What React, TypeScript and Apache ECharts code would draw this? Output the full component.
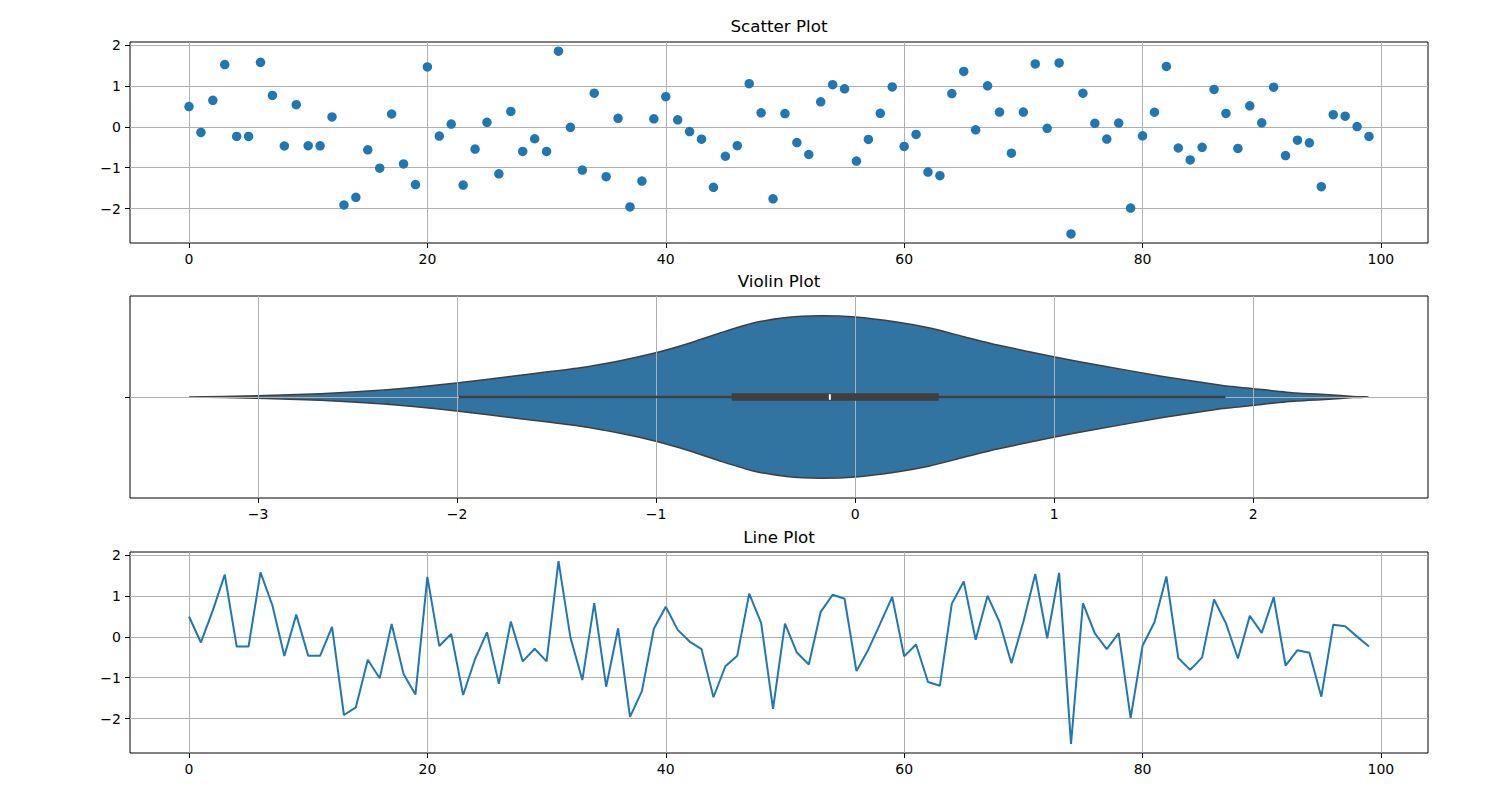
import React, { useEffect, useRef } from "react";
import * as echarts from "echarts";

// ---- data ----
const values: number[] = [
  0.497, -0.138, 0.648, 1.523, -0.234, -0.234, 1.579, 0.767, -0.469, 0.543,
  -0.463, -0.466, 0.242, -1.913, -1.725, -0.562, -1.013, 0.314, -0.908, -1.412,
  1.466, -0.226, 0.068, -1.425, -0.544, 0.111, -1.151, 0.376, -0.601, -0.292,
  -0.602, 1.852, -0.013, -1.058, 0.823, -1.221, 0.209, -1.96, -1.328, 0.197,
  0.738, 0.171, -0.116, -0.301, -1.479, -0.72, -0.461, 1.057, 0.344, -1.763,
  0.324, -0.385, -0.677, 0.612, 1.031, 0.931, -0.839, -0.309, 0.331, 0.976,
  -0.479, -0.186, -1.106, -1.196, 0.813, 1.356, -0.072, 1.004, 0.362, -0.645,
  0.361, 1.538, -0.036, 1.565, -2.62, 0.822, 0.087, -0.299, 0.092, -1.988,
  -0.22, 0.357, 1.478, -0.518, -0.809, -0.502, 0.915, 0.329, -0.53, 0.513,
  0.097, 0.969, -0.702, -0.328, -0.392, -1.464, 0.296, 0.261, 0.005, -0.235,
];
const indices: number[] = values.map((_, i) => i);

const xTicks: number[] = [0, 20, 40, 60, 80, 100];
const yTicks: number[] = [-2, -1, 0, 1, 2];
const violinTicks: number[] = [-3, -2, -1, 0, 1, 2];

// violin outline: value position and half width (category units)
const violinX: number[] = [
  -3.346, -3.0, -2.686, -2.351, -2.003, -1.682, -1.381, -1.18, -0.996, -0.846,
  -0.679, -0.512, -0.344, -0.177, 0.0, 0.208, 0.375, 0.542, 0.709,
  1.003, 1.211, 1.545, 1.846, 2.002, 2.214, 2.381, 2.498, 2.579,
];
const violinHalfWidth: number[] = [
  0, 0.0064, 0.0163, 0.0361, 0.0693, 0.108, 0.145, 0.18, 0.2203, 0.2624,
  0.3168, 0.3663, 0.3936, 0.402, 0.396, 0.3713, 0.3416, 0.3, 0.2589,
  0.198, 0.1599, 0.102, 0.0574, 0.0411, 0.0198, 0.0114, 0.003, 0,
];
// whisker low, q1, median, q3, whisker high
const boxStats: number[] = [-1.99, -0.62, -0.127, 0.42, 1.86];

const titles: string[] = ["Scatter Plot", "Violin Plot", "Line Plot"];

// ---- styling / layout ----
const FONT = "DejaVu Sans";
const BLUE = "#1f77b4";
const GRID_LEFT = 130;
const GRID_WIDTH = 1298;
const GRID_TOPS = [42, 296, 552];
const GRID_HEIGHTS = [201, 202, 201];
const TITLE_TOPS = [17, 272.5, 528.5];

const fmt = (v: number) => (v < 0 ? "\u2212" + Math.abs(v) : String(v));

function axis(gridIndex: number, min: number, max: number, ticks: number[], z?: number, hideLabels?: boolean) {
  return {
    type: "value",
    gridIndex,
    min,
    max,
    z: z ?? 0,
    axisLine: { show: false, onZero: false },
    axisTick: {
      show: true,
      length: 5,
      customValues: ticks,
      lineStyle: { color: "#000", width: 1 },
    },
    axisLabel: {
      show: true,
      customValues: ticks,
      formatter: (v: number) => (hideLabels ? "" : fmt(v)),
      color: "#000",
      fontSize: 14,
      fontFamily: FONT,
      margin: 9,
      showMinLabel: true,
      showMaxLabel: true,
    },
    splitLine: { show: true, lineStyle: { color: "#b0b0b0", width: 1 } },
  };
}

export default function App() {
  const ref = useRef<HTMLDivElement>(null);
  useEffect(() => {
    if (!ref.current) return;
    const chart = echarts.init(ref.current, undefined, { renderer: "svg" });
    const option: any = {
      animation: false,
      backgroundColor: "#fff",
      title: titles.map((t, i) => ({
        text: t,
        left: GRID_LEFT + GRID_WIDTH / 2,
        textAlign: "center",
        top: TITLE_TOPS[i],
        padding: 0,
        textStyle: { fontFamily: FONT, fontSize: 16.7, fontWeight: "normal", color: "#000" },
      })),
      grid: GRID_TOPS.map((top, i) => ({
        left: GRID_LEFT,
        width: GRID_WIDTH,
        top,
        height: GRID_HEIGHTS[i],
        show: true,
        borderColor: "#000",
        borderWidth: 1,
        backgroundColor: "transparent",
        containLabel: false,
      })),
      xAxis: [
        axis(0, -4.95, 103.95, xTicks),
        axis(1, -3.643, 2.878, violinTicks, 3),
        axis(2, -4.95, 103.95, xTicks),
      ],
      yAxis: [
        axis(0, -2.843, 2.076, yTicks),
        axis(1, -0.5, 0.5, [0], 3, true),
        axis(2, -2.843, 2.076, yTicks),
      ],
      series: [
        {
          type: "scatter",
          xAxisIndex: 0,
          yAxisIndex: 0,
          symbolSize: 9.5,
          itemStyle: { color: BLUE, opacity: 1 },
          data: indices.map((x, i) => [x, values[i]]),
          silent: true,
        },
        {
          type: "custom",
          xAxisIndex: 1,
          yAxisIndex: 1,
          z: 1,
          silent: true,
          data: [[0, 0]],
          renderItem: (_params: any, api: any) => {
            const top = violinX.map((x, i) => api.coord([x, violinHalfWidth[i]]));
            const bottom = violinX.map((x, i) => api.coord([x, -violinHalfWidth[i]])).reverse();
            return {
              type: "polygon",
              shape: { points: top.concat(bottom), smooth: 0.2 },
              style: { fill: "#3274a1", stroke: "#3f3f3f", lineWidth: 1.5 },
            };
          },
        },
        {
          type: "custom",
          xAxisIndex: 1,
          yAxisIndex: 1,
          z: 5,
          silent: true,
          data: [[0, 0]],
          renderItem: (_params: any, api: any) => {
            const [lo, q1, med, q3, hi] = boxStats;
            const pLo = api.coord([lo, 0]);
            const pHi = api.coord([hi, 0]);
            const pQ1 = api.coord([q1, 0]);
            const pQ3 = api.coord([q3, 0]);
            const pMed = api.coord([med, 0]);
            return {
              type: "group",
              children: [
                {
                  type: "line",
                  shape: { x1: pLo[0], y1: pLo[1], x2: pHi[0], y2: pHi[1] },
                  style: { stroke: "#3f3f3f", lineWidth: 2.6 },
                },
                {
                  type: "rect",
                  shape: { x: pQ1[0], y: pQ1[1] - 3.7, width: pQ3[0] - pQ1[0], height: 7.4 },
                  style: { fill: "#3f3f3f" },
                },
                {
                  type: "rect",
                  shape: { x: pMed[0] - 1, y: pMed[1] - 2.8, width: 2, height: 5.6 },
                  style: { fill: "#ffffff" },
                },
              ],
            };
          },
        },
        {
          type: "line",
          xAxisIndex: 2,
          yAxisIndex: 2,
          showSymbol: false,
          symbol: "none",
          lineStyle: { color: BLUE, width: 2 },
          data: indices.map((x, i) => [x, values[i]]),
          silent: true,
        },
      ],
    };
    chart.setOption(option);
    return () => chart.dispose();
  }, []);
  return (
    <div
      ref={ref}
      style={{ position: "fixed", left: 0, top: 0, width: 1512, height: 795, background: "#fff" }}
    />
  );
}
